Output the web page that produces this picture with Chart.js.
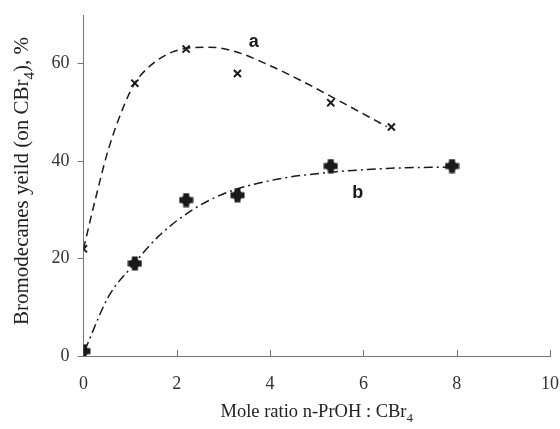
<!DOCTYPE html>
<html>
<head>
<meta charset="utf-8">
<script src="https://cdn.jsdelivr.net/npm/chart.js@4"></script>
<style>
  html, body { margin: 0; padding: 0; background: #fff; }
  #wrap { width: 560px; height: 429px; }
</style>
</head>
<body>
<div id="wrap"><canvas id="chart" width="560" height="429"></canvas></div>
<script>
// measured points
var ratioA = [0, 1.1, 2.2, 3.3, 5.3, 6.6];
var yieldA = [22, 56, 63, 58, 52, 47];
var ratioB = [0, 1.1, 2.2, 3.3, 5.3, 7.9];
var yieldB = [1, 19, 32, 33, 39, 39];

// fitted trend lines
var fitAx = [0, 0.25, 0.53, 0.89, 1.1, 1.46, 1.96, 2.68, 3.25, 4.0, 4.71, 5.36, 6.5];
var fitAy = [22, 32, 42.3, 51.9, 56, 59.8, 62.6, 63.4, 62.5, 59.6, 56.3, 53.0, 47.1];
var fitBx = [0.03, 0.53, 1.03, 1.6, 2.32, 3.03, 4.05, 5.07, 6.5, 7.86];
var fitBy = [1.2, 12.1, 18.3, 24.5, 29.9, 33.4, 36.1, 37.5, 38.5, 38.8];

var xTicks = [0, 2, 4, 6, 8, 10];
var yTicks = [0, 20, 40, 60];

var serif = '"Liberation Serif", "Times New Roman", serif';
var sans = '"Liberation Sans", Arial, sans-serif';

function pairs(xs, ys) {
    return xs.map(function(x, i) { return { x: x, y: ys[i] }; });
}

// thick filled plus marker for series b
function plusMarker() {
    var c = document.createElement('canvas');
    c.width = 15; c.height = 15;
    var g = c.getContext('2d');
    g.fillStyle = '#1a1a1a';
    g.beginPath();
    g.arc(7.5, 7.5, 5, 0, Math.PI * 2);
    g.fill();
    g.fillRect(4.5, 0.5, 6, 14);
    g.fillRect(0.5, 4.5, 14, 6);
    return c;
}

// axis titles with subscripts, curve labels, inward x ticks
var decorations = {
    id: 'decorations',
    afterDraw: function(chart) {
        var ctx = chart.ctx;
        var xs = chart.scales.x, ys = chart.scales.y;
        var area = chart.chartArea;
        ctx.save();
        ctx.strokeStyle = '#777';
        ctx.lineWidth = 1;
        xTicks.forEach(function(t) {
            if (t === 0) return;
            var px = Math.round(xs.getPixelForValue(t)) + 0.5;
            ctx.beginPath();
            ctx.moveTo(px, area.bottom);
            ctx.lineTo(px, area.bottom - 6);
            ctx.stroke();
        });

        ctx.fillStyle = '#222';
        ctx.textBaseline = 'alphabetic';
        function subText(parts, x, y, size) {
            var big = size + 'px ' + serif, small = Math.round(size * 0.72) + 'px ' + serif;
            var w = 0;
            parts.forEach(function(p) {
                ctx.font = p.sub ? small : big;
                w += ctx.measureText(p.t).width;
            });
            var cx = x - w / 2;
            ctx.textAlign = 'left';
            parts.forEach(function(p) {
                ctx.font = p.sub ? small : big;
                ctx.fillText(p.t, cx, p.sub ? y + size * 0.28 : y);
                cx += ctx.measureText(p.t).width;
            });
        }
        subText([{ t: 'Mole ratio n-PrOH : CBr' }, { t: '4', sub: true }],
            (area.left + area.right) / 2, 417, 18.5);

        ctx.save();
        ctx.translate(28, 181);
        ctx.rotate(-Math.PI / 2);
        subText([{ t: 'Bromodecanes yeild (on CBr' }, { t: '4', sub: true }, { t: '), %' }],
            0, 0, 21);
        ctx.restore();

        ctx.font = 'bold 18px ' + sans;
        ctx.textAlign = 'center';
        ctx.textBaseline = 'middle';
        ctx.fillStyle = '#1a1a1a';
        ctx.fillText('a', xs.getPixelForValue(3.65), ys.getPixelForValue(64.5));
        ctx.fillText('b', xs.getPixelForValue(5.88), ys.getPixelForValue(33.5));
        ctx.restore();
    }
};

new Chart(document.getElementById('chart'), {
    type: 'scatter',
    data: {
        datasets: [{
            data: pairs(fitAx, fitAy),
            showLine: true,
            borderColor: '#1a1a1a',
            borderWidth: 1.5,
            borderDash: [8, 5],
            cubicInterpolationMode: 'monotone',
            pointRadius: 0
        }, {
            data: pairs(fitBx, fitBy),
            showLine: true,
            borderColor: '#1a1a1a',
            borderWidth: 1.5,
            borderDash: [9, 4, 2, 4],
            cubicInterpolationMode: 'monotone',
            pointRadius: 0
        }, {
            data: pairs(ratioA, yieldA),
            pointStyle: 'crossRot',
            pointRadius: 5,
            borderColor: '#1a1a1a',
            borderWidth: 2
        }, {
            data: pairs(ratioB, yieldB),
            pointStyle: plusMarker(),
            pointRadius: 8
        }]
    },
    options: {
        responsive: false,
        animation: false,
        layout: { padding: { left: 0, top: 15, right: 10, bottom: 0 } },
        plugins: { legend: { display: false }, tooltip: { enabled: false } },
        scales: {
            x: {
                type: 'linear',
                min: 0, max: 10,
                afterBuildTicks: function(s) { s.ticks = xTicks.map(function(v) { return { value: v }; }); },
                afterFit: function(s) { s.height = 73; s.paddingLeft = 0; s.paddingRight = 0; },
                grid: { drawOnChartArea: false, drawTicks: false },
                border: { color: '#777', width: 1 },
                ticks: { padding: 17, color: '#333', font: { family: serif, size: 18 } }
            },
            y: {
                type: 'linear',
                min: 0, max: 70,
                afterBuildTicks: function(s) { s.ticks = yTicks.map(function(v) { return { value: v }; }); },
                afterFit: function(s) { s.width = 83.5; s.paddingTop = 0; s.paddingBottom = 0; },
                grid: { drawOnChartArea: false, tickLength: 6, color: '#777' },
                border: { color: '#777', width: 1 },
                ticks: { padding: 8, color: '#333', font: { family: serif, size: 18 } }
            }
        }
    },
    plugins: [decorations]
});
</script>
</body>
</html>
